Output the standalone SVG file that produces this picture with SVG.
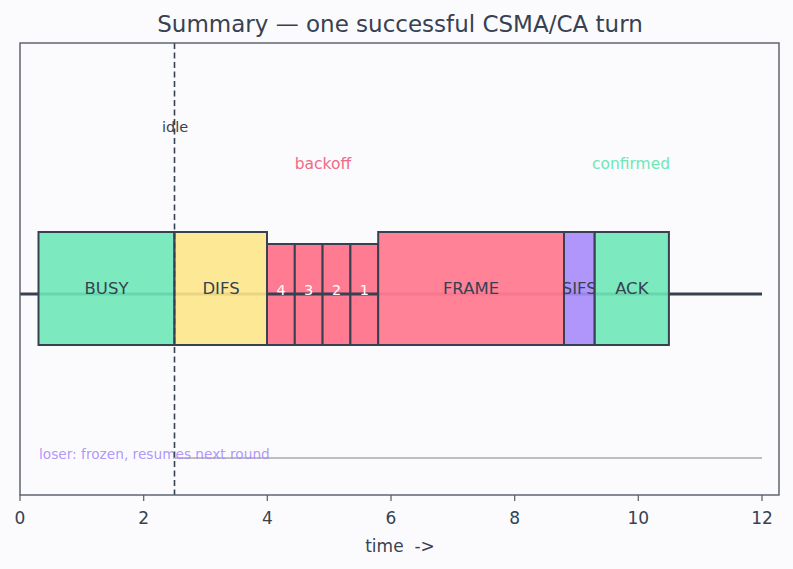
<svg xmlns="http://www.w3.org/2000/svg" width="793" height="569" viewBox="0 0 793 569">
  <style>
    text { font-family: "DejaVu Sans", "Liberation Sans", sans-serif; }
    .box { stroke: #374151; stroke-width: 2; }
    .lbl { font-size: 16.5px; fill: #374151; text-anchor: middle; }
    .slot { fill: #ff7b91; stroke: #374151; stroke-width: 2; }
    .slotlbl { font-size: 14.5px; fill: #ffffff; text-anchor: middle; }
    .tick { stroke: #555b66; stroke-width: 1.2; }
    .ticklbl { font-size: 17px; fill: #374151; text-anchor: middle; }
  </style>
  <rect width="793" height="569" fill="#fbfbfd"/>

  <text x="400" y="32" font-size="23" fill="#374151" text-anchor="middle">Summary — one successful CSMA/CA turn</text>

  <!-- annotation labels -->
  <text x="175" y="132" font-size="14.5" fill="#374151" text-anchor="middle">idle</text>
  <text x="323" y="169" font-size="15.5" fill="#f06a88" text-anchor="middle">backoff</text>
  <text x="631" y="169" font-size="15.5" fill="#6ee7b7" text-anchor="middle">confirmed</text>

  <g id="backoff">
    <rect class="slot" x="267" y="244" width="27.8" height="101"/>
    <rect class="slot" x="294.8" y="244" width="27.8" height="101"/>
    <rect class="slot" x="322.6" y="244" width="27.8" height="101"/>
    <rect class="slot" x="350.4" y="244" width="27.8" height="101"/>
  </g>

  <g id="connectors">
    <line x1="20" y1="294" x2="762" y2="294" stroke="#374151" stroke-width="3"/>
    <line x1="175" y1="458" x2="762" y2="458" stroke="#aaaaaa" stroke-width="1.5"/>
  </g>

  <g id="busy"><rect class="box" x="38.5" y="232" width="136" height="113" fill="#6ee7b7" fill-opacity="0.9"/>
    <text class="lbl" x="106.5" y="294">BUSY</text></g>
  <g id="difs"><rect class="box" x="174.5" y="232" width="92.5" height="113" fill="#fde68a" fill-opacity="0.9"/>
    <text class="lbl" x="221" y="294">DIFS</text></g>
  <g id="frame"><rect class="box" x="378.2" y="232" width="185.8" height="113" fill="#ff7b91" fill-opacity="0.95"/>
    <text class="lbl" x="471" y="294">FRAME</text></g>
  <g id="sifs"><rect class="box" x="564" y="232" width="30.7" height="113" fill="#a78bfa" fill-opacity="0.9"/>
    <text class="lbl" x="579.3" y="294">SIFS</text></g>
  <g id="ack"><rect class="box" x="594.7" y="232" width="74.2" height="113" fill="#6ee7b7" fill-opacity="0.9"/>
    <text class="lbl" x="631.8" y="294">ACK</text></g>

  <g id="slot-labels">
    <text class="slotlbl" x="281" y="295">4</text>
    <text class="slotlbl" x="308.7" y="295">3</text>
    <text class="slotlbl" x="336.5" y="295">2</text>
    <text class="slotlbl" x="364.3" y="295">1</text>
  </g>

  <text x="39" y="459" font-size="13.7" fill="#a78bfa" fill-opacity="0.9">loser: frozen, resumes next round</text>

  <line x1="174.5" y1="43" x2="174.5" y2="495" stroke="#374151" stroke-width="1.6" stroke-dasharray="6,3.5"/>

  <!-- axes frame -->
  <rect x="20" y="43" width="759" height="452" fill="none" stroke="#555b66" stroke-width="1.4"/>
  <g id="xaxis">
    <line class="tick" x1="20" y1="495" x2="20" y2="501"/>
    <line class="tick" x1="143.7" y1="495" x2="143.7" y2="501"/>
    <line class="tick" x1="267.3" y1="495" x2="267.3" y2="501"/>
    <line class="tick" x1="391" y1="495" x2="391" y2="501"/>
    <line class="tick" x1="514.7" y1="495" x2="514.7" y2="501"/>
    <line class="tick" x1="638.3" y1="495" x2="638.3" y2="501"/>
    <line class="tick" x1="762" y1="495" x2="762" y2="501"/>
    <text class="ticklbl" x="20" y="524">0</text>
    <text class="ticklbl" x="143.7" y="524">2</text>
    <text class="ticklbl" x="267.3" y="524">4</text>
    <text class="ticklbl" x="391" y="524">6</text>
    <text class="ticklbl" x="514.7" y="524">8</text>
    <text class="ticklbl" x="638.3" y="524">10</text>
    <text class="ticklbl" x="762" y="524">12</text>
    <text class="ticklbl" x="400" y="552" font-size="18" xml:space="preserve">time  -&gt;</text>
  </g>
</svg>
